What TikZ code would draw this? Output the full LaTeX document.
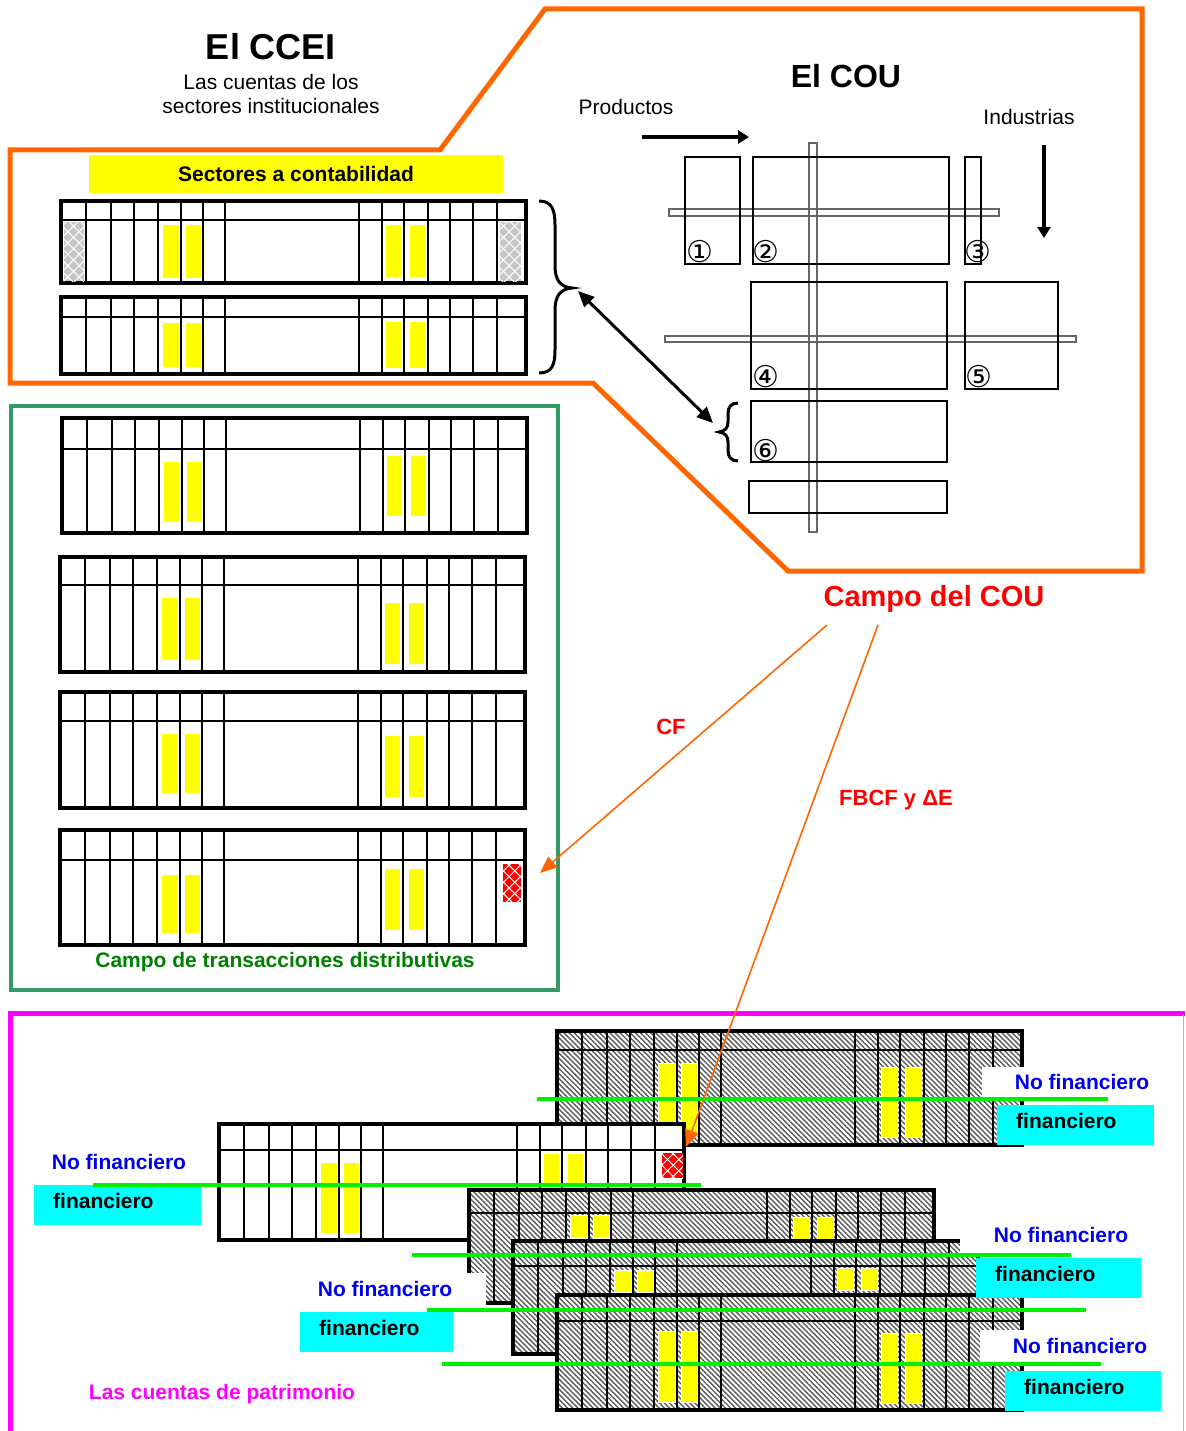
\documentclass[tikz,border=0pt]{standalone}
\usepackage{fontspec}
\setmainfont{Liberation Sans}
\newfontfamily\circfont{DejaVu Sans}
\usetikzlibrary{arrows.meta,patterns.meta}

\definecolor{naranja}{RGB}{255,102,0}
\definecolor{verdecaja}{RGB}{51,153,102}
\definecolor{verdetexto}{RGB}{0,128,0}
\definecolor{verdelinea}{RGB}{0,240,0}
\definecolor{azul}{RGB}{0,0,240}
\definecolor{cian}{RGB}{0,255,255}
\definecolor{amarillo}{RGB}{255,255,0}
\definecolor{rosa}{RGB}{255,0,255}

\tikzset{
  borde/.style={line width=3.8pt},
  linea/.style={line width=2.2pt},
  rayado/.style={fill=white, postaction={pattern={Lines[angle=-45,distance=3.6pt,line width=1.4pt]}, pattern color=black!65}},
  barra/.style={fill=amarillo, draw=white, line width=0.8pt},
  caja/.style={line width=2.4pt},
  riel/.style={draw=black!60, line width=1.2pt},
  llave/.style={line width=3pt},
  txt/.style={font=\fontsize{21}{24}\selectfont},
  txtb/.style={font=\fontsize{21}{24}\selectfont\bfseries},
  nofin/.style={txtb, text=azul},
  fin/.style={txtb, fill=cian, anchor=north west, align=left, inner xsep=19pt, inner ysep=0pt, text height=15pt, text depth=8pt, minimum height=40pt},
  verde/.style={verdelinea, line width=4.5pt},
  circ/.style={font=\circfont\fontsize{30}{32}\selectfont, inner sep=0pt},
  rojo/.style={font=\fontsize{22}{26}\selectfont\bfseries, text=red},
  flechanar/.style={naranja, line width=1.6pt, -{Triangle[length=17pt,width=14pt]}},
}

% una cuenta: x, y, alto, cabecera, relleno
\newcommand{\cuenta}[5]{%
  \path[#5] (#1,#2) rectangle ++(465,#3);
  \foreach \col in {25,50,73,97,120,142,164,298,321,343,367,389,412,436}
    \draw[linea] (#1+\col,#2) -- ++(0,#3);
  \draw[linea] (#1,#2+#4) -- ++(465,0);
  \draw[borde] (#1,#2) rectangle ++(465,#3);
}
% barras amarillas: x, arriba/abajo izq., arriba/abajo der.
\newcommand{\barras}[5]{%
  \path[barra] (#1+101,#2) rectangle (#1+118,#3);
  \path[barra] (#1+124,#2) rectangle (#1+140,#3);
  \path[barra] (#1+324,#4) rectangle (#1+340,#5);
  \path[barra] (#1+348,#4) rectangle (#1+364,#5);
}
% celda con cuadricula blanca
\newcommand{\celda}[5]{%
  \fill[#5] (#1,#2) rectangle (#3,#4);
  \fill[pattern={Lines[angle=45,distance=8pt,line width=1pt]}, pattern color=white] (#1,#2) rectangle (#3,#4);
  \fill[pattern={Lines[angle=-45,distance=8pt,line width=1pt]}, pattern color=white] (#1,#2) rectangle (#3,#4);
}

\begin{document}
\begin{tikzpicture}[x=1pt,y=-1pt]
\useasboundingbox (0,0) rectangle (1185,1431);

% marcos
\draw[naranja, line width=5pt] (10,150) -- (440,150) -- (545,9) -- (1142,9) -- (1142,571) -- (788,571) -- (593,383) -- (10,383) -- cycle;
\draw[verdecaja, line width=4.5pt] (11,406) rectangle (558,990);
\draw[rosa, line width=5pt] (10,1431) -- (10,1013) -- (1185,1013);
\draw[rosa!50, line width=1pt] (1183,1015) -- (1183,1431);

% CCEI
\node[font=\fontsize{36}{40}\selectfont\bfseries] (ccei) at (271,47) {El CCEI};
\node[txt] (ccei1) at (271,82) {Las cuentas de los};
\node[txt] (ccei2) at (271,106) {sectores institucionales};
\node[txtb, fill=amarillo, minimum width=414pt, minimum height=38pt] (sectores) at (296,174) {Sectores a contabilidad};

\cuenta{61}{201}{82}{19}{fill=white}
\celda{64}{222}{84}{281}{gray!45}
\celda{500}{222}{521}{281}{gray!45}
\barras{61}{224}{278}{224}{277}
\cuenta{61}{297}{77}{20}{fill=white}
\barras{61}{322}{367}{321}{368}

\cuenta{62}{418}{115}{31}{fill=white}
\barras{62}{461}{522}{455}{516}
\cuenta{60}{557}{115}{28}{fill=white}
\barras{60}{597}{660}{602}{664}
\cuenta{60}{692}{116}{29}{fill=white}
\barras{60}{733}{793}{735}{797}
\cuenta{60}{830}{115}{30}{fill=white}
\barras{60}{874}{933}{868}{930}
\celda{503}{864}{521}{902}{red}

% llaves
\draw[llave] (539,201) .. controls (552,201) and (555,210) .. (555,225) -- (555,265) .. controls (555,280) and (560,287) .. (572,288) .. controls (560,289) and (555,296) .. (555,311) -- (555,350) .. controls (555,365) and (552,373) .. (539,373);
\draw[llave] (738,403) .. controls (731,403) and (728,407) .. (728,414) -- (728,422) .. controls (728,428) and (725,431) .. (719,432) .. controls (725,433) and (728,436) .. (728,442) -- (728,450) .. controls (728,457) and (731,461) .. (738,461);
\coordinate (llaveA) at (578,291);
\coordinate (llaveB) at (713,423);
\draw[line width=3pt, {Triangle[length=16pt,width=14pt]}-{Triangle[length=16pt,width=14pt]}] (llaveA) -- (llaveB);

% COU
\node[font=\fontsize{32}{36}\selectfont\bfseries] (cou) at (846,76) {El COU};
\node[txt] (prod) at (626,107) {Productos};
\node[txt] (ind) at (1029,117) {Industrias};
\coordinate (prodA) at (642,137);
\coordinate (prodB) at (749,137);
\draw[line width=4pt, -{Triangle[length=11pt,width=13pt]}] (prodA) -- (prodB);
\coordinate (indA) at (1044,145);
\coordinate (indB) at (1044,238);
\draw[line width=4pt, -{Triangle[length=11pt,width=13pt]}] (indA) -- (indB);

\draw[riel] (669,209) rectangle (999,216);
\draw[riel] (665,336) rectangle (1076,342);
\draw[riel] (809,143) rectangle (817,532);
\draw[caja] (685,157) rectangle (740,264);
\draw[caja] (753,157) rectangle (949,264);
\draw[caja] (965,157) rectangle (981,264);
\draw[caja] (751,282) rectangle (947,389);
\draw[caja] (965,282) rectangle (1058,389);
\draw[caja] (751,401) rectangle (947,462);
\draw[caja] (749,481) rectangle (947,513);
\node[circ] (n1) at (700,252) {①};
\node[circ] (n2) at (766,252) {②};
\node[circ] (n3) at (978,252) {③};
\node[circ] (n4) at (766,377) {④};
\node[circ] (n5) at (979,377) {⑤};
\node[circ] (n6) at (766,451) {⑥};

% campo del COU
\node[font=\fontsize{29}{32}\selectfont\bfseries, text=red] (campo) at (934,599) {Campo del COU};
\node[rojo] (cf) at (671,727) {CF};
\node[rojo] (fbcf) at (896,800) {FBCF y ΔE};
\coordinate (cfA) at (827,625);
\coordinate (cfB) at (540,873);
\draw[flechanar] (cfA) -- (cfB);
\node[txtb, text=verdetexto] (distrib) at (285,962) {Campo de transacciones distributivas};

% cuentas de patrimonio
\cuenta{557}{1031}{114}{19}{rayado}
\barras{557}{1063}{1135}{1067}{1137}
\cuenta{219}{1124}{116}{26}{fill=white}
\barras{219}{1162}{1233}{1153}{1233}
\celda{662}{1153}{683}{1178}{red}
\cuenta{469}{1190}{113}{23}{rayado}
\barras{469}{1215}{1238}{1217}{1239}
\cuenta{513}{1241}{113}{25}{rayado}
\barras{513}{1270}{1292}{1268}{1290}
\cuenta{557}{1295}{115}{26}{rayado}
\barras{557}{1331}{1402}{1333}{1403}

\fill[white] (982,1067) rectangle (1160,1097);
\node[nofin] (nf1) at (1082,1082) {No financiero};
\node[fin, text width=119pt] (fin1) at (997,1105) {financiero};
\node[nofin] (nf2) at (119,1162) {No financiero};
\node[fin, text width=129pt] (fin2) at (34,1185) {financiero};
\fill[white] (960,1217) rectangle (1140,1253);
\node[nofin] (nf3) at (1061,1235) {No financiero};
\node[fin, text width=127pt] (fin3) at (976,1258) {financiero};
\fill[white] (296,1273) rectangle (486,1305);
\node[nofin] (nf4) at (385,1289) {No financiero};
\node[fin, text width=115pt] (fin4) at (300,1312) {financiero};
\fill[white] (980,1330) rectangle (1160,1362);
\node[nofin] (nf5) at (1080,1346) {No financiero};
\node[fin, text width=118pt] (fin5) at (1005,1371) {financiero};

\draw[verde] (537,1099) -- (1108,1099);
\draw[verde] (93,1185) -- (701,1185);
\draw[verde] (412,1255) -- (1071,1255);
\draw[verde] (427,1310) -- (1086,1310);
\draw[verde] (442,1364) -- (1101,1364);

\node[txtb, text=rosa] (patrim) at (222,1394) {Las cuentas de patrimonio};

\coordinate (fbA) at (878,625);
\coordinate (fbB) at (686,1147);
\draw[flechanar] (fbA) -- (fbB);
\end{tikzpicture}
\end{document}
